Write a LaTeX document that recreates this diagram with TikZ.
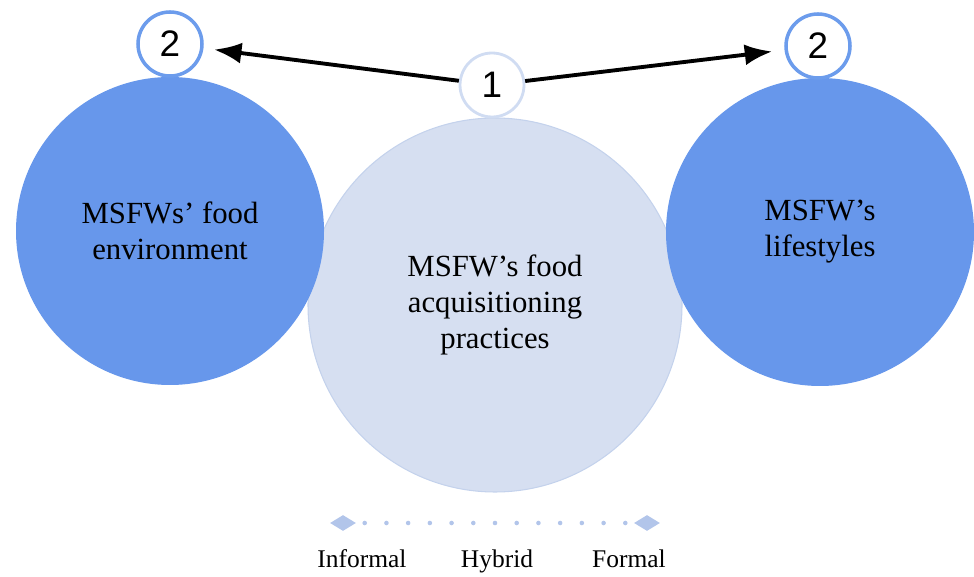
\documentclass[tikz,border=0pt]{standalone}
\usepackage{fontspec}
\setmainfont{Liberation Serif}
\newfontfamily\numfont{Liberation Sans}
\usetikzlibrary{arrows.meta,shapes.geometric}

\definecolor{bigblue}{RGB}{103,151,235}
\definecolor{paleblue}{RGB}{214,223,241}
\definecolor{paleedge}{RGB}{196,210,236}
\definecolor{ringblue}{RGB}{108,156,236}
\definecolor{ringpale}{RGB}{208,220,242}
\definecolor{dotblue}{RGB}{178,197,234}

\begin{document}
\begin{tikzpicture}[x=0.02cm, y=-0.02cm, >={Latex[length=5.5mm,width=4.2mm]},
	bigcirc/.style={circle, fill=bigblue, minimum size=308*0.02cm, inner sep=0pt, align=center, font=\fontsize{17.5}{20.5}\selectfont},
	midcirc/.style={circle, fill=paleblue, draw=paleedge, line width=0.6pt, minimum size=374*0.02cm, inner sep=0pt, align=center, font=\fontsize{17.5}{20.5}\selectfont},
	numring/.style={circle, fill=white, draw=ringblue, line width=2pt, minimum size=64*0.02cm, inner sep=0pt, font=\numfont\fontsize{21}{24}\selectfont},
	numpale/.style={numring, draw=ringpale, line width=1.6pt},
	legdot/.style={circle, fill=dotblue, minimum size=2.6pt, inner sep=0pt},
	legdiam/.style={diamond, fill=dotblue, minimum width=26*0.02cm, minimum height=16*0.02cm, inner sep=0pt},
	legtext/.style={anchor=base, font=\fontsize{14.5}{17}\selectfont}]
	\useasboundingbox (0,0) rectangle (974,577);
	% circles
	\node[midcirc] (acq) at (495,305) {MSFW's food\\acquisitioning\\practices};
	\node[bigcirc] (env) at (170,231) {MSFWs' food\\environment};
	\node[bigcirc] (life) at (820,232) {MSFW's\\lifestyles};
	% numbered rings
	\node[numring] (envnum) at (170,44) {2};
	\node[numring] (lifenum) at (818,46) {2};
	\node[numpale] (acqnum) at (492,85) {1};
	\draw[->, line width=2.2pt, shorten >=6pt] (acqnum) -- (envnum);
	\draw[->, line width=2.2pt, shorten >=7pt] (acqnum) -- (lifenum);
	% legend
	\node[legdiam] (inf) at (343,523) {};
	\node[legdiam] (frm) at (647,523) {};
	\foreach \i in {1,...,13}
		\node[legdot] at ({343+\i*304/14},523) {};
	\node[legtext] (infl) at (362,567) {Informal};
	\node[legtext] (hyb) at (497,567) {Hybrid};
	\node[legtext] (frml) at (629,567) {Formal};
\end{tikzpicture}
\end{document}
